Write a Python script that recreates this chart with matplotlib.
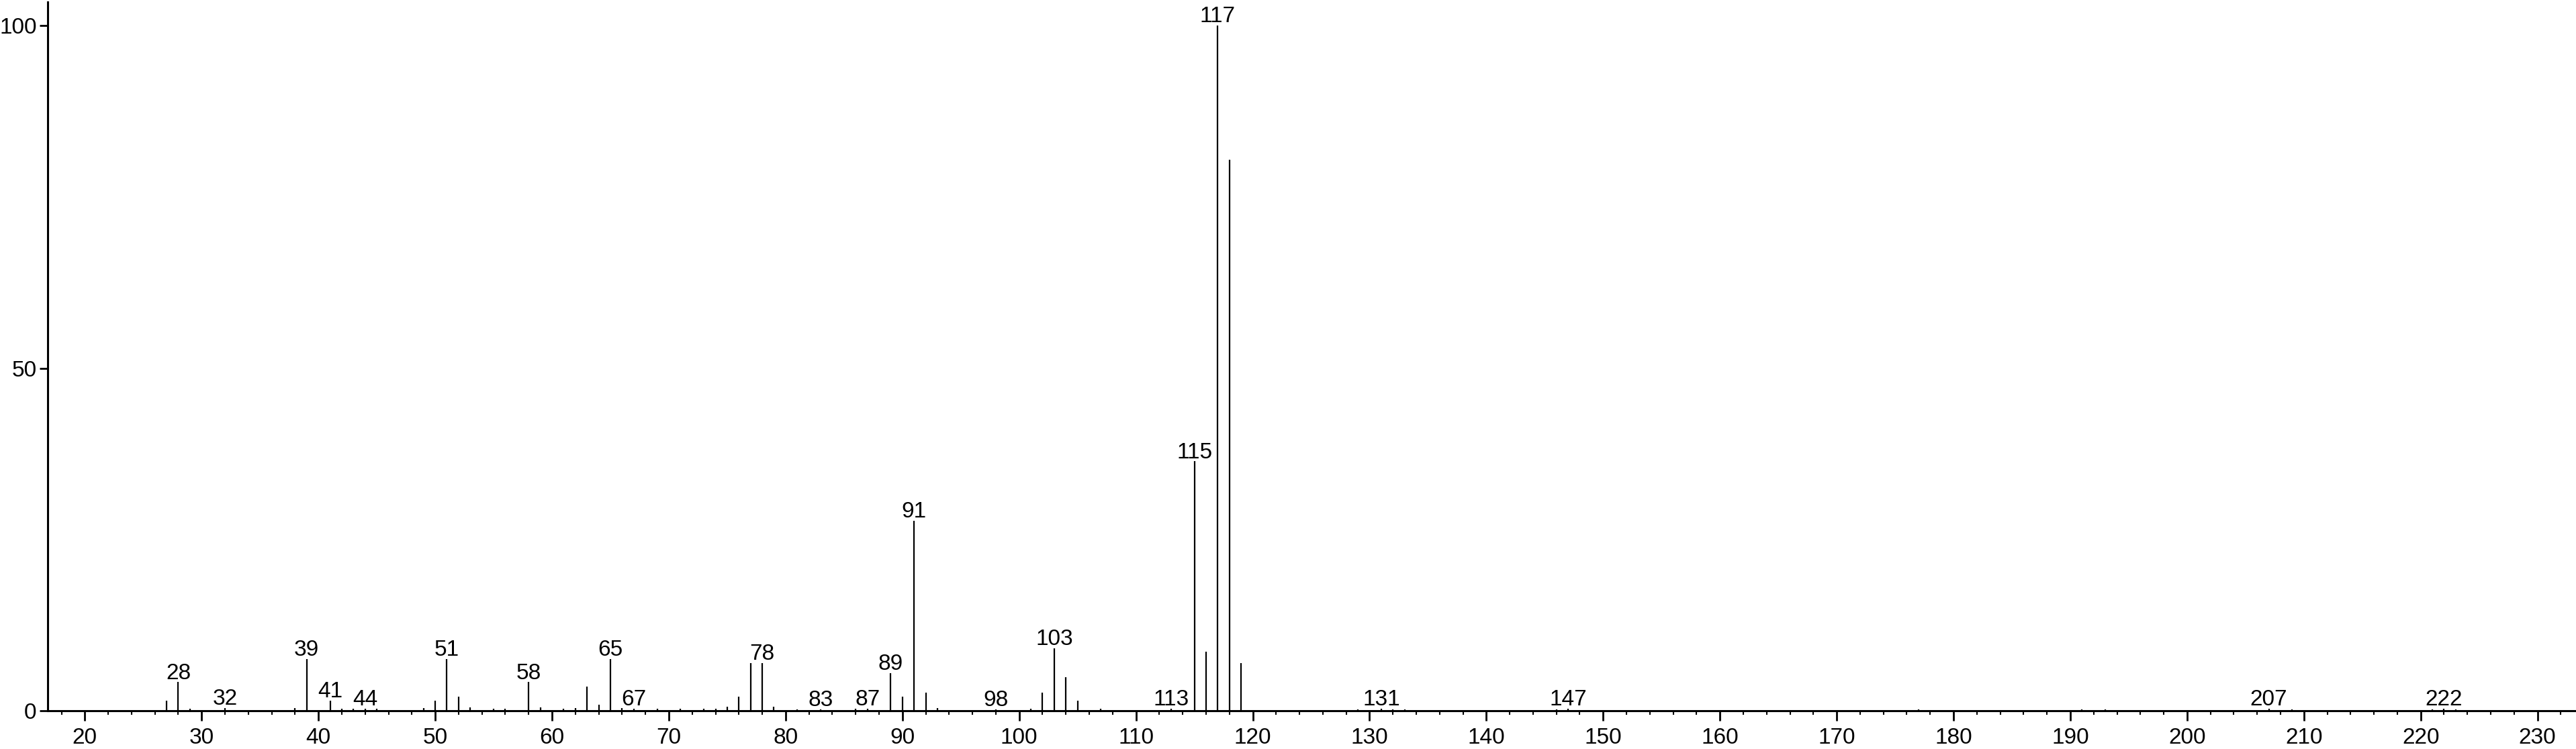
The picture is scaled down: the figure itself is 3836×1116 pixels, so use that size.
import matplotlib
matplotlib.use('Agg')
from matplotlib import pyplot as plt
from matplotlib.ticker import MultipleLocator

# peaks (m/z, relative intensity %)
mz = [27, 28, 29, 32, 38, 39, 41, 42, 43, 44, 45, 49, 50, 51, 52, 53, 55, 56,
      58, 59, 61, 62, 63, 64, 65, 66, 67, 69, 71, 73, 74, 75, 76, 77, 78, 79,
      81, 83, 86, 87, 89, 90, 91, 92, 93, 98, 101, 102, 103, 104, 105, 107,
      113, 115, 116, 117, 118, 119, 129, 131, 132, 133, 146, 147, 177, 191,
      193, 207, 209, 221, 222, 223]
intensity = [1.5, 4.2, 0.3, 0.4, 0.4, 7.6, 1.5, 0.3, 0.3, 0.3, 0.3, 0.4, 1.5, 7.6, 2.1, 0.5, 0.3, 0.3,
             4.2, 0.5, 0.3, 0.4, 3.6, 0.9, 7.6, 0.4, 0.3, 0.3, 0.3, 0.3, 0.3, 0.6, 2.1, 7.0, 7.0, 0.6,
             0.2, 0.2, 0.3, 0.3, 5.5, 2.1, 27.7, 2.7, 0.4, 0.2, 0.3, 2.7, 9.1, 4.9, 1.5, 0.3,
             0.3, 36.4, 8.6, 100.0, 80.4, 7.0, 0.2, 0.3, 0.2, 0.2, 0.2, 0.3, 0.2, 0.2,
             0.2, 0.3, 0.2, 0.2, 0.3, 0.2]

# peaks that carry a label
labelled = [28, 32, 39, 41, 44, 51, 58, 65, 67, 78, 83, 87, 89, 91, 98, 103,
            113, 115, 117, 131, 147, 207, 222]

x_ticks = list(range(20, 240, 10))
y_ticks = [0, 50, 100]

plt.rcParams['font.family'] = ['Liberation Sans', 'DejaVu Sans']

W, H = 3836, 1116
fig = plt.figure(figsize=(W / 100, H / 100), dpi=100)
ax = fig.add_axes([70.7 / W, (H - 1059.3) / H, 1 - 70.7 / W, (1059.3 - 3) / H])

ax.vlines(mz, 0, intensity, color='black', lw=1.6)

lookup = dict(zip(mz, intensity))
for m in labelled:
    ax.annotate(str(m), (m, lookup[m]), xytext=(0, 3.5), textcoords='offset points',
                ha='center', va='baseline', fontsize=24)

ax.set_xlim(16.8, 233.3)
ax.set_ylim(0, 103.4)
ax.set_xticks(x_ticks)
ax.xaxis.set_minor_locator(MultipleLocator(2))
ax.set_yticks(y_ticks)

for s in ['top', 'right']:
    ax.spines[s].set_visible(False)
for s in ['left', 'bottom']:
    ax.spines[s].set_linewidth(2.2)

ax.tick_params(axis='x', which='major', direction='out', length=10.5, width=2, pad=7, labelsize=24)
ax.tick_params(axis='x', which='minor', direction='out', length=4, width=1.5)
ax.tick_params(axis='y', which='major', direction='out', length=8.6, width=2, pad=3, labelsize=24)

plt.savefig('out.png', dpi=100)
plt.close()
